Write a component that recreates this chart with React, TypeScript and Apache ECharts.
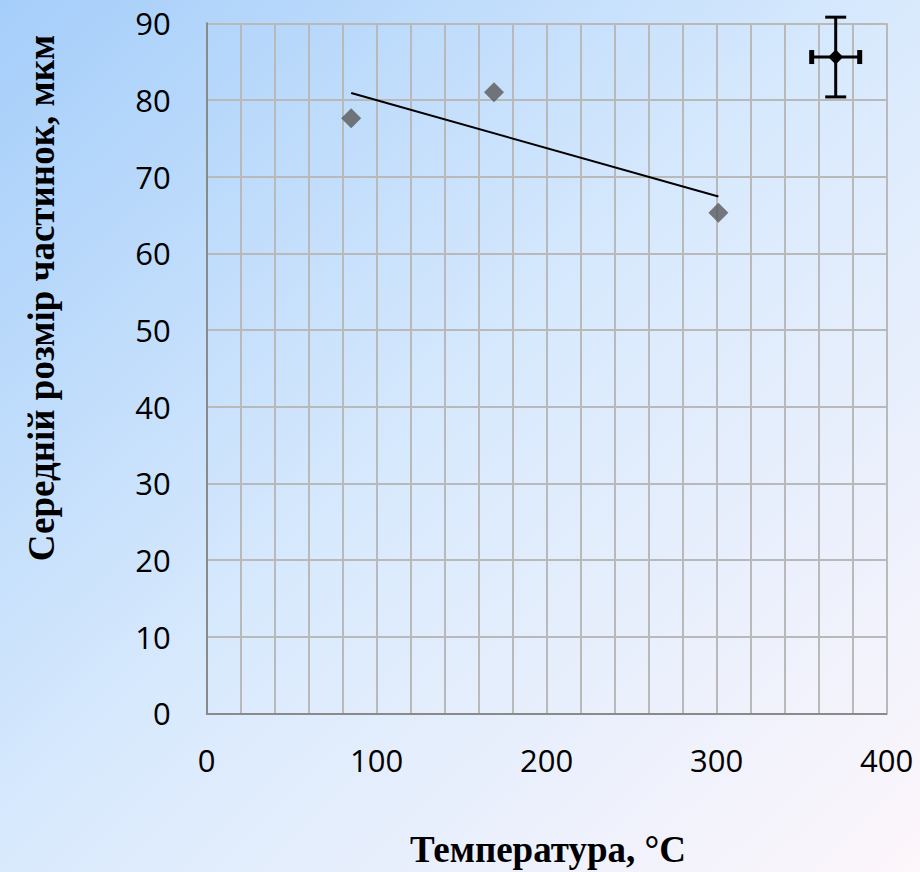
import React, { useEffect, useRef } from "react";
import * as echarts from "echarts";

// Data
const temperatures = [85, 169, 301];
const particleSizes = [77.6, 81.0, 65.3];
const trendX = [85, 301];
const trendY = [80.9, 67.4];
const errPoint = [370, 85.6];
const errX = 15;
const errY = 5.2;

const xTitle = "Температура, °C";
const yTitle = "Середній розмір частинок, мкм";

export default function App() {
  const ref = useRef<HTMLDivElement>(null);

  useEffect(() => {
    document.body.style.margin = "0";
    if (!ref.current) return;
    const chart = echarts.init(ref.current, undefined, { renderer: "svg" });

    const points = temperatures.map((t, i) => [t, particleSizes[i]]);
    const trend = trendX.map((t, i) => [t, trendY[i]]);

    chart.setOption({
      animation: false,
      backgroundColor: new echarts.graphic.LinearGradient(0, 0, 1, 1, [
        { offset: 0, color: "#a5cefa" },
        { offset: 0.5, color: "#d9eafd" },
        { offset: 1, color: "#fdf6fb" },
      ]),
      grid: { left: 206.7, right: 33.3, top: 23.3, bottom: 158.7, containLabel: false },
      xAxis: {
        type: "value",
        min: 0,
        max: 400,
        interval: 20,
        axisLine: { show: true, lineStyle: { color: "#8a8a8a", width: 2 } },
        axisTick: { show: false },
        axisLabel: {
          formatter: (v: number) => (v % 100 === 0 ? String(v) : ""),
          fontFamily: "Open Sans",
          fontSize: 31,
          color: "#000",
          margin: 31,
          showMaxLabel: true,
          showMinLabel: true,
        },
        splitLine: { show: true, lineStyle: { color: "#b9b9b9", width: 2 } },
      },
      yAxis: {
        type: "value",
        min: 0,
        max: 90,
        interval: 10,
        axisLine: { show: true, lineStyle: { color: "#8a8a8a", width: 2 } },
        axisTick: { show: false },
        axisLabel: {
          fontFamily: "Open Sans",
          fontSize: 31,
          color: "#000",
          margin: 36,
        },
        splitLine: { show: true, lineStyle: { color: "#b9b9b9", width: 2 } },
      },
      graphic: [
        {
          type: "text",
          x: 548,
          y: 849,
          style: {
            text: xTitle,
            font: "bold 37px 'Liberation Serif'",
            fill: "#000",
            textAlign: "center",
            textVerticalAlign: "middle",
          },
        },
        {
          type: "text",
          x: 41,
          y: 298,
          rotation: Math.PI / 2,
          style: {
            text: yTitle,
            font: "bold 37px 'Liberation Serif'",
            fill: "#000",
            textAlign: "center",
            textVerticalAlign: "middle",
          },
        },
      ],
      series: [
        {
          type: "line",
          data: trend,
          showSymbol: false,
          symbol: "none",
          lineStyle: { color: "#000", width: 2 },
          z: 3,
        },
        {
          type: "scatter",
          data: points,
          symbol: "diamond",
          symbolSize: 20,
          itemStyle: { color: "#595959" },
          z: 4,
        },
        {
          type: "custom",
          data: [errPoint],
          z: 5,
          renderItem: (params: any, api: any) => {
            const x = api.value(0);
            const y = api.value(1);
            const c = api.coord([x, y]);
            const l = api.coord([x - errX, y]);
            const r = api.coord([x + errX, y]);
            const t = api.coord([x, y + errY]);
            const b = api.coord([x, y - errY]);
            const s = { stroke: "#000", lineWidth: 3 };
            return {
              type: "group",
              children: [
                { type: "line", shape: { x1: l[0], y1: l[1], x2: r[0], y2: r[1] }, style: s },
                { type: "line", shape: { x1: t[0], y1: t[1], x2: b[0], y2: b[1] }, style: s },
                { type: "line", shape: { x1: t[0] - 10.5, y1: t[1], x2: t[0] + 10.5, y2: t[1] }, style: s },
                { type: "line", shape: { x1: b[0] - 10.5, y1: b[1], x2: b[0] + 10.5, y2: b[1] }, style: s },
                { type: "rect", shape: { x: l[0] - 1, y: l[1] - 7, width: 5, height: 14 }, style: { fill: "#000" } },
                { type: "rect", shape: { x: r[0] - 4, y: r[1] - 7, width: 5, height: 14 }, style: { fill: "#000" } },
                {
                  type: "polygon",
                  shape: {
                    points: [
                      [c[0], c[1] - 7.5],
                      [c[0] + 7.5, c[1]],
                      [c[0], c[1] + 7.5],
                      [c[0] - 7.5, c[1]],
                    ],
                  },
                  style: { fill: "#000" },
                },
              ],
            };
          },
        },
      ],
    });

    return () => chart.dispose();
  }, []);

  return <div ref={ref} style={{ width: 920, height: 872 }} />;
}
